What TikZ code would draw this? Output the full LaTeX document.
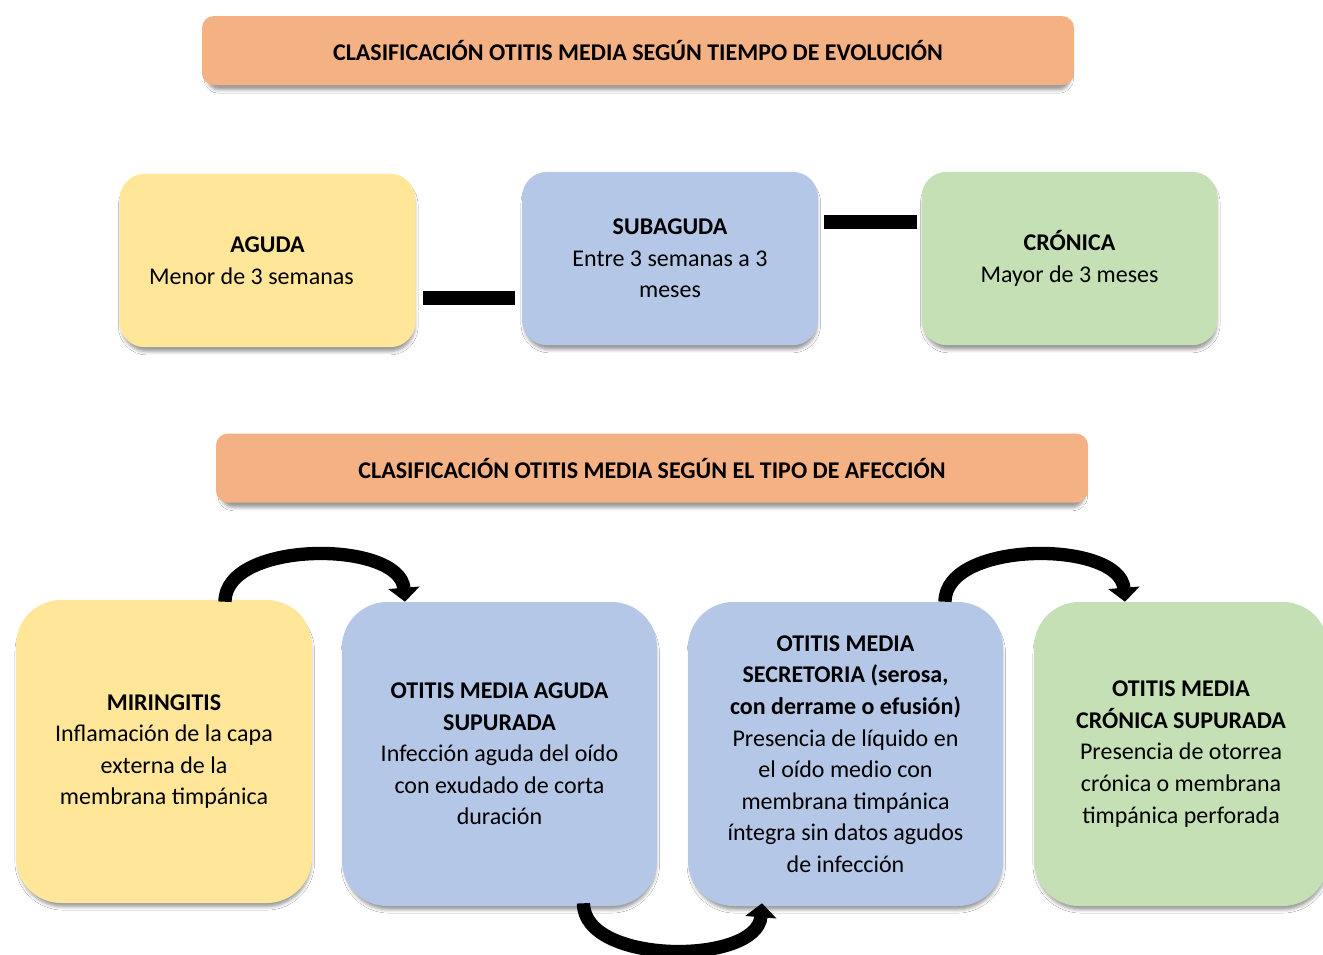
\documentclass[tikz,border=0pt]{standalone}
\usepackage{fontspec}
\setmainfont{Carlito}
\usetikzlibrary{shadows.blur,arrows.meta,calc}
\definecolor{cOrange}{HTML}{F4B183}
\definecolor{cYellow}{HTML}{FFE699}
\definecolor{cBlue}{HTML}{B4C7E7}
\definecolor{cGreen}{HTML}{C5E0B4}
\begin{document}
\begin{tikzpicture}[x=0.75pt,y=-0.75pt,
  txt/.style={font=\fontsize{18pt}{23.7pt}\selectfont, align=center, text=black, inner sep=0pt},
  shad/.style={blur shadow={shadow xshift=0.6pt, shadow yshift=-4pt, shadow opacity=40, shadow blur radius=2.5pt, shadow scale=0.99}},
  titlebox/.style={txt, shad, fill=cOrange, rounded corners=9pt, minimum width=654pt, minimum height=51.75pt, font=\fontsize{18pt}{23.7pt}\selectfont\bfseries},
  smallbox/.style={txt, shad, rounded corners=19pt, minimum width=222pt, minimum height=130pt},
  bigbox/.style={txt, shad, rounded corners=34pt, minimum height=228pt},
  bar/.style={line width=10.5pt, black},
  carrow/.style={line width=10pt, black, -{Triangle[width=23pt,length=10.5pt]}}
]
\useasboundingbox (0,0) rectangle (1323,954);
\fill[white] (0,0) rectangle (1323,954);

\node[titlebox] (t1) at (638,50.5) {CLASIFICACIÓN OTITIS MEDIA SEGÚN TIEMPO DE EVOLUCIÓN};

\node[smallbox, fill=cYellow] (aguda) at (267.5,260.5) {\textbf{AGUDA}\\Menor de 3 semanas\hspace*{24pt}};
\node[smallbox, fill=cBlue] (sub) at (670,258.5) {\textbf{SUBAGUDA}\\Entre 3 semanas a 3\\meses};
\node[smallbox, fill=cGreen] (cron) at (1069.5,258.5) {\textbf{CRÓNICA}\\Mayor de 3 meses};

\draw[bar] ($(aguda.east)+(7,37.5)$) -- ($(sub.west)+(-7,39.5)$);
\draw[bar] ($(sub.east)+(6,-37)$) -- ($(cron.west)+(-4,-37)$);

\node[titlebox] (t2) at (652,468) {CLASIFICACIÓN OTITIS MEDIA SEGÚN EL TIPO DE AFECCIÓN};

\node[bigbox, fill=cYellow, minimum width=222pt, minimum height=227.25pt] (mir) at (164,751.5) {\textbf{MIRINGITIS}\\Inflamación de la capa\\externa de la\\membrana timpánica};
\node[bigbox, fill=cBlue, minimum width=236.25pt] (omas) at (499.5,754) {\textbf{OTITIS MEDIA AGUDA}\\\textbf{SUPURADA}\\Infección aguda del oído\\con exudado de corta\\duración};
\node[bigbox, fill=cBlue, minimum width=236.25pt] (oms) at (845.5,754) {\textbf{OTITIS MEDIA}\\\textbf{SECRETORIA (serosa,}\\\textbf{con derrame o efusión)}\\Presencia de líquido en\\el oído medio con\\membrana timpánica\\íntegra sin datos agudos\\de infección};
\node[bigbox, fill=cGreen, minimum width=220.5pt] (omcs) at (1181,754) {\textbf{OTITIS MEDIA}\\\textbf{CRÓNICA SUPURADA}\\Presencia de otorrea\\crónica o membrana\\timpánica perforada};

\coordinate (a1s) at ($(mir.north)+(61,2)$);
\coordinate (a1e) at ($(omas.north)+(-94.5,0)$);
\draw[carrow] (a1s) .. controls +(0,-62) and +(-5,-62) .. (a1e);

\coordinate (a2s) at ($(omas.south)+(84,-3)$);
\coordinate (a2e) at ($(oms.south)+(-83.5,-3)$);
\draw[carrow] (a2s) .. controls +(0,62) and +(-5,62) .. (a2e);

\coordinate (a3s) at ($(oms.north)+(99.5,0)$);
\coordinate (a3e) at ($(omcs.north)+(-56,0)$);
\draw[carrow] (a3s) .. controls +(0,-62) and +(-5,-62) .. (a3e);
\end{tikzpicture}
\end{document}
